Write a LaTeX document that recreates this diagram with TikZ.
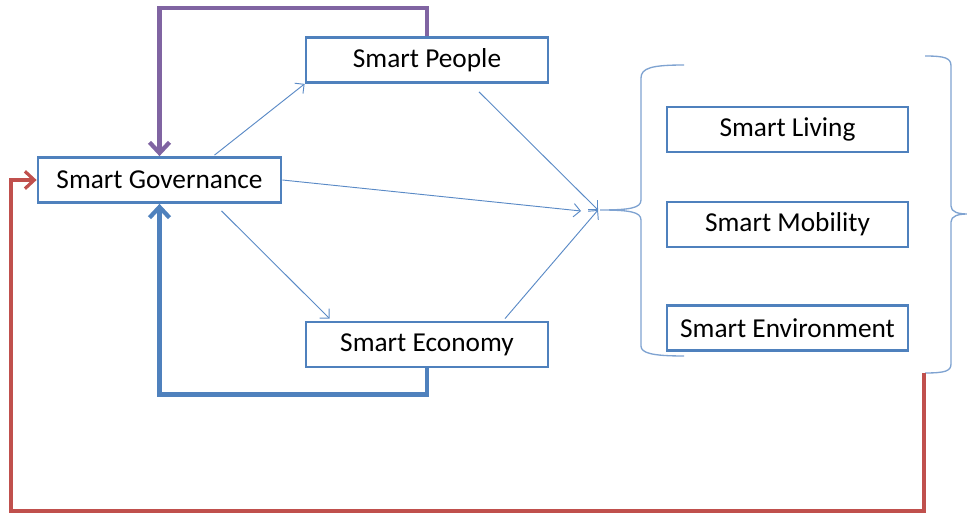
\documentclass[tikz,border=0pt]{standalone}
\usepackage{fontspec}
\setmainfont{Carlito}
\usetikzlibrary{arrows.meta,calc}
\definecolor{boxblue}{HTML}{4F81BD}
\definecolor{thinblue}{HTML}{5A8AC6}
\definecolor{bracecol}{HTML}{7FA3D1}
\definecolor{purp}{HTML}{8064A2}
\definecolor{redl}{HTML}{C0504D}
\begin{document}
\begin{tikzpicture}[x=0.75pt,y=-0.75pt,
  box/.style={draw=boxblue,line width=2.1pt,fill=white,inner sep=0pt,
    minimum height=33.75pt,font=\fontsize{20.5}{24}\selectfont},
  thin/.style={draw=thinblue,line width=0.7pt,-{Straight Barb[length=5pt,width=10pt,line width=0.7pt]}},
  thick/.style={line width=3.2pt,-{Straight Barb[length=8pt,width=15pt,line width=3.2pt]}},
  bracel/.style={draw=bracecol,line width=1pt}]
\useasboundingbox (0,0) rectangle (967,513);
% nodes
\node[box,minimum width=182.25pt] (gov) at (159.5,180) {Smart Governance};
\node[box,minimum width=181.5pt] (people) at (427,60) {Smart People};
\node[box,minimum width=181.5pt] (econ) at (427,344.5) {Smart Economy};
\node[box,minimum width=180.75pt] (living) at (787.5,129.5) {Smart Living};
\node[box,minimum width=180.75pt] (mobility) at (787.5,224.5) {Smart Mobility};
\node[box,minimum width=180.75pt] (env) at (787.5,328) {Smart Environment};
% braces
\coordinate (ltip) at (598,210);
\coordinate (lgtip) at (581,211);
\draw[bracel] (684,65) .. controls (652,65) and (641,68) .. (641,78) -- (641,200)
  .. controls (641,208) and (630,210) .. (600,210)
  .. controls (630,210) and (641,212) .. (641,220) -- (641,346)
  .. controls (641,353) and (652,356) .. (684,356);
\draw[bracel] (925,56) .. controls (945,56) and (951,58) .. (951,66) -- (951,206)
  .. controls (951,212) and (958,214) .. (968,214)
  .. controls (958,214) and (951,216) .. (951,222) -- (951,364)
  .. controls (951,371) and (945,373) .. (925,373);
% thin arrows
\draw[thin] ($(gov.north)+(55,-1)$) -- (people.south west);
\draw[thin] ($(gov.south)+(62,7)$) -- ($(econ.north west)+(25,-2)$);
\draw[thin] (gov.east) -- (lgtip);
\draw[thin] ($(people.south)+(52,8)$) -- (ltip);
\draw[thin] ($(econ.north)+(78,-2)$) -- (ltip);
% thick feedback arrows
\draw[thick,draw=purp] (people.north) -- ++(0,-28) -| (gov.north);
\draw[thick,draw=boxblue] (econ.south) -- ++(0,26) -| (gov.south);
\coordinate (rbot) at (924,373);
\coordinate (rleft) at (11,511);
\draw[draw=redl,line width=2.4pt,-{Straight Barb[length=7pt,width=13pt,line width=2.4pt]}]
  (rbot) |- (rleft) |- (gov.west);
\end{tikzpicture}
\end{document}
